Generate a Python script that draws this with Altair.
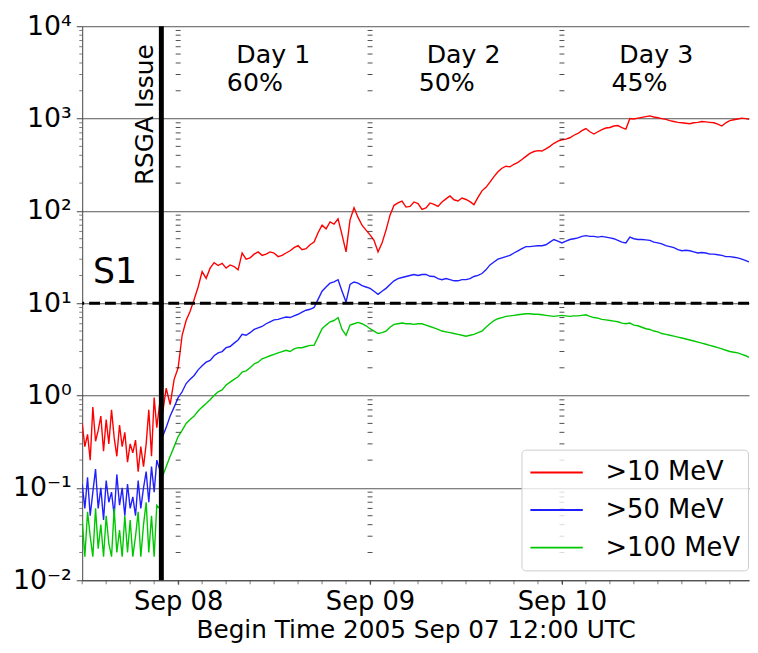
import altair as alt
import pandas as pd

# ---------------- data ----------------
BEGIN = pd.Timestamp("2005-09-07 12:00")
END_HOURS = 83.4          # right edge of the plot, hours after BEGIN
RSGA_HOURS = 9.9          # RSGA issue time, hours after BEGIN

SERIES = [">10 MeV", ">50 MeV", ">100 MeV"]
COLORS = ["#ff0000", "#1f1fff", "#00c800"]

# quiet period before the event (hours after BEGIN, 20-minute samples)
T_PRE = [0.0, 0.33, 0.67, 1.0, 1.33, 1.67, 2.0, 2.33, 2.67, 3.0, 3.33, 3.67, 4.0, 4.33, 4.67,
         5.0, 5.33, 5.67, 6.0, 6.33, 6.67, 7.0, 7.33, 7.67, 8.0, 8.33, 8.67, 9.0, 9.33, 9.67]
RED_PRE = [0.5, 0.28, 0.38, 0.2, 0.75, 0.32, 0.42, 0.6, 0.25, 0.55, 0.3, 0.7, 0.35, 0.22, 0.48,
           0.28, 0.4, 0.19, 0.3, 0.24, 0.33, 0.15, 0.28, 0.17, 0.3, 0.7, 0.22, 0.95, 0.45, 0.8]
BLUE_PRE = [0.11, 0.06, 0.13, 0.05, 0.09, 0.16, 0.06, 0.1, 0.045, 0.12, 0.07, 0.09, 0.05, 0.14, 0.065,
            0.1, 0.05, 0.11, 0.06, 0.08, 0.05, 0.12, 0.06, 0.1, 0.15, 0.07, 0.17, 0.09, 0.2, 0.16]
GREEN_PRE = [0.045, 0.018, 0.055, 0.03, 0.018, 0.06, 0.022, 0.04, 0.018, 0.05, 0.025, 0.018, 0.06, 0.02, 0.035,
             0.018, 0.05, 0.02, 0.045, 0.018, 0.03, 0.055, 0.018, 0.04, 0.07, 0.02, 0.05, 0.018, 0.065, 0.06]

# event period: half-hour samples from 10 h to 83 h, plus the right edge
T_POST = [10 + 0.5 * i for i in range(147)] + [83.4]
RED_POST = [0.6, 1.2, 0.8, 1.5, 2.0, 4.5, 6.5, 8.2, 11, 15,
            22, 18.6, 24, 27.5, 25.6, 27, 24, 26, 25, 23,
            35, 30, 31, 34, 36, 33, 34, 36, 35, 32,
            33, 35, 37, 40, 42, 38, 39, 43, 46, 58,
            70, 64, 76, 72, 82, 55, 36, 80, 108, 85,
            70, 62, 55, 48, 36, 45, 62, 90, 115, 122,
            128, 110, 112, 125, 120, 104, 108, 122, 118, 112,
            125, 135, 145, 132, 128, 138, 133, 126, 117, 140,
            165, 180, 205, 235, 265, 290, 305, 300, 320, 335,
            360, 390, 420, 440, 450, 445, 470, 500, 540, 570,
            590, 600, 620, 660, 690, 740, 780, 720, 680, 720,
            760, 790, 800, 830, 840, 800, 770, 1000, 990, 1010,
            1030, 1050, 1070, 1040, 1020, 1000, 980, 950, 930, 910,
            900, 890, 880, 900, 910, 930, 920, 910, 900, 870,
            830, 900, 950, 970, 990, 1010, 1000, 980]
BLUE_POST = [0.35, 0.45, 0.6, 0.75, 0.95, 1.1, 1.35, 1.5, 1.65, 1.9,
             2.1, 2.3, 2.4, 2.7, 2.9, 3.0, 3.3, 3.4, 3.7, 4.0,
             4.6, 4.5, 4.8, 5.2, 5.4, 5.6, 6.0, 6.3, 6.6, 6.7,
             6.9, 7.1, 7.0, 7.3, 7.6, 8.0, 8.4, 8.6, 9.0, 11,
             13.5, 15, 16.5, 17, 18, 13.5, 10.3, 16, 17, 16.5,
             15.5, 15, 14.5, 13.5, 12.5, 13.5, 14.5, 16, 17.5, 18.5,
             19, 19.5, 20, 20.5, 20, 20.5, 20.5, 19.6, 19.5, 18.5,
             18, 18.5, 18, 17.5, 17.5, 18, 18, 18.5, 19.5, 20,
             21, 23, 26, 28, 30, 31, 32, 33, 35, 37,
             39, 41, 41, 41.5, 42, 42, 43, 46, 49, 47,
             45, 47, 49, 50, 51, 53, 54, 53, 53, 52,
             53, 52, 51, 50, 48, 46, 45, 52, 50, 49,
             49, 48.5, 48, 46, 45, 44, 42, 41, 40, 38,
             37, 37.5, 37, 36, 35, 35.5, 35, 34, 34, 33.5,
             33, 32, 32, 31.5, 31, 30, 29, 28]
GREEN_POST = [0.13, 0.17, 0.22, 0.28, 0.36, 0.42, 0.5, 0.55, 0.6, 0.68,
              0.75, 0.82, 0.9, 1.0, 1.1, 1.15, 1.3, 1.4, 1.5, 1.6,
              1.8, 1.85, 2.0, 2.2, 2.3, 2.5, 2.6, 2.7, 2.8, 2.9,
              3.0, 3.1, 3.0, 3.2, 3.3, 3.3, 3.4, 3.5, 3.5, 4.3,
              5.3, 5.8, 6.3, 6.5, 7.0, 5.2, 4.5, 5.8, 6.0, 6.2,
              6.0, 5.7, 5.3, 5.0, 4.7, 4.8, 5.0, 5.5, 5.9, 6.0,
              6.1, 6.0, 6.0, 5.9, 6.0, 6.0, 5.8, 5.6, 5.4, 5.2,
              5.0, 4.9, 4.8, 4.7, 4.6, 4.5, 4.4, 4.5, 4.6, 4.8,
              5.0, 5.5, 6.0, 6.5, 6.8, 7.0, 7.2, 7.3, 7.4, 7.5,
              7.6, 7.7, 7.7, 7.6, 7.6, 7.5, 7.4, 7.3, 7.2, 7.3,
              7.4, 7.3, 7.2, 7.3, 7.3, 7.4, 7.5, 7.2, 7.0, 6.9,
              6.7, 6.6, 6.5, 6.4, 6.3, 6.1, 6.0, 6.1, 5.8, 5.7,
              5.5, 5.3, 5.2, 5.0, 4.9, 4.7, 4.6, 4.5, 4.4, 4.3,
              4.2, 4.1, 4.0, 3.9, 3.8, 3.7, 3.6, 3.5, 3.4, 3.3,
              3.2, 3.1, 3.0, 2.95, 2.9, 2.8, 2.7, 2.6]

THRESHOLD = 10
DAY_LABELS = ["Day 1", "Day 2", "Day 3"]
DAY_HOURS = [23.9, 47.7, 71.8]
PCT_LABELS = ["60%", "50%", "45%"]
PCT_HOURS = [21.6, 45.6, 69.7]
DAY_Y = 4000
PCT_Y = 2000
S1_HOURS, S1_Y = 4.1, 16.6
RSGA_TEXT_HOURS, RSGA_TEXT_Y = 8.9, 1100
MIDNIGHT_HOURS = [12, 36, 60]   # Sep 08, 09, 10 00:00
DECADES = [0.01, 0.1, 1, 10, 100, 1000, 10000]
DECADE_LABELS = ["10⁻²", "10⁻¹", "10⁰", "10¹", "10²", "10³", "10⁴"]


def ts(h):
    return (BEGIN + pd.Timedelta(hours=h)).strftime("%Y-%m-%dT%H:%M:%SZ")


def dt(h):
    t = BEGIN + pd.Timedelta(hours=h)
    return alt.DateTime(year=t.year, month=t.month, date=t.day, hours=t.hour,
                        minutes=t.minute, utc=True)


rows = []
for name, pre, post in zip(SERIES, [RED_PRE, BLUE_PRE, GREEN_PRE], [RED_POST, BLUE_POST, GREEN_POST]):
    for h, v in zip(T_PRE + T_POST, pre + post):
        rows.append({"t": ts(h), "v": v, "series": name})
df = pd.DataFrame(rows)

minor_vals = [round(m * 10.0 ** k, 6) for k in range(-2, 4) for m in range(2, 10)]
df_minor = pd.DataFrame([{"t": ts(h), "v": v} for h in MIDNIGHT_HOURS for v in minor_vals])
df_left_minor = pd.DataFrame([{"t": ts(0), "v": v} for v in minor_vals])
df_xticks = pd.DataFrame([{"t": ts(h), "v": 0.01} for h in range(0, 84, 3)])

FONT = "DejaVu Sans"
AXC = "#444444"

ylabel_expr = " : ".join(
    [f"datum.value == {v} ? '{lab}'" for v, lab in zip(DECADES, DECADE_LABELS)]) + " : ''"

X = alt.X("t:T", scale=alt.Scale(type="utc", domain=[dt(0), dt(END_HOURS)], nice=False),
          title="Begin Time 2005 Sep 07 12:00 UTC",
          axis=alt.Axis(format="%b %d", tickCount={"interval": "day", "step": 1}, grid=False,
                        tickSize=4, labelFontSize=26, titleFontSize=25, titlePadding=3))
Y = alt.Y("v:Q", scale=alt.Scale(type="log", domain=[0.01, 10000]), title=None,
          axis=alt.Axis(values=DECADES, labelExpr=ylabel_expr, grid=True, tickSize=6,
                        labelFontSize=27, labelPadding=5))

lines = alt.Chart(df).mark_line(strokeWidth=1.4, clip=True).encode(
    x=X, y=Y,
    color=alt.Color("series:N", scale=alt.Scale(domain=SERIES, range=COLORS),
                    legend=alt.Legend(orient="none", legendX=444, legendY=428, title=None,
                                      symbolType="stroke", symbolSize=2809, symbolStrokeWidth=2,
                                      clipHeight=30, rowPadding=8, labelFontSize=26,
                                      labelFont=FONT, labelColor="black", labelOffset=22,
                                      padding=8, cornerRadius=4, strokeColor="#cccccc",
                                      fillColor="rgba(255,255,255,0.8)", labelLimit=300)),
    detail="series:N",
)

minor = alt.Chart(df_minor).mark_tick(orient="horizontal", size=5, thickness=1, color="black").encode(
    x=X, y=Y)

left_minor = alt.Chart(df_left_minor).mark_tick(orient="horizontal", size=3, thickness=1, color=AXC,
                                                 xOffset=-1.5).encode(x=X, y=Y)

xticks = alt.Chart(df_xticks).mark_tick(orient="vertical", size=4, thickness=1, color=AXC,
                                         yOffset=2).encode(x=X, y=Y)

thr = alt.Chart(pd.DataFrame({"v": [THRESHOLD]})).mark_rule(
    color="black", strokeWidth=3, strokeDash=[11, 5]).encode(y=Y)

rsga = alt.Chart(pd.DataFrame({"t": [ts(RSGA_HOURS)]})).mark_rule(
    color="black", strokeWidth=5).encode(x=X)

df_days = pd.DataFrame({"t": [ts(h) for h in DAY_HOURS] + [ts(h) for h in PCT_HOURS],
                        "v": [DAY_Y] * 3 + [PCT_Y] * 3,
                        "label": DAY_LABELS + PCT_LABELS})
days = alt.Chart(df_days).mark_text(fontSize=25.5, font=FONT, color="black", align="center",
                                    baseline="alphabetic").encode(x=X, y=Y, text="label:N")

s1 = alt.Chart(pd.DataFrame({"t": [ts(S1_HOURS)], "v": [S1_Y], "label": ["S1"]})).mark_text(
    fontSize=35, font=FONT, color="black", align="center", baseline="alphabetic").encode(
    x=X, y=Y, text="label:N")

rsga_txt = alt.Chart(pd.DataFrame({"t": [ts(RSGA_TEXT_HOURS)], "v": [RSGA_TEXT_Y],
                                   "label": ["RSGA Issue"]})).mark_text(
    fontSize=25, font=FONT, color="black", align="center", baseline="alphabetic", angle=270).encode(
    x=X, y=Y, text="label:N")

chart = alt.layer(lines, minor, left_minor, xticks, thr, rsga, days, s1, rsga_txt).properties(
    width=674, height=560,
    padding={"left": 75, "top": 15, "right": 1, "bottom": 62},
    autosize=alt.AutoSizeParams(type="none"),
).configure(background="white").configure_view(stroke=None).configure_axis(
    labelFont=FONT, labelColor="black", labelFontSize=24, titleFont=FONT, titleFontSize=23,
    titleFontWeight="normal", titleColor="black", domainColor=AXC, tickColor=AXC,
    gridColor="#555555", gridOpacity=1, labelPadding=5, titlePadding=4
)

chart.save("out.html", embed_options={"renderer": "svg", "actions": False})
